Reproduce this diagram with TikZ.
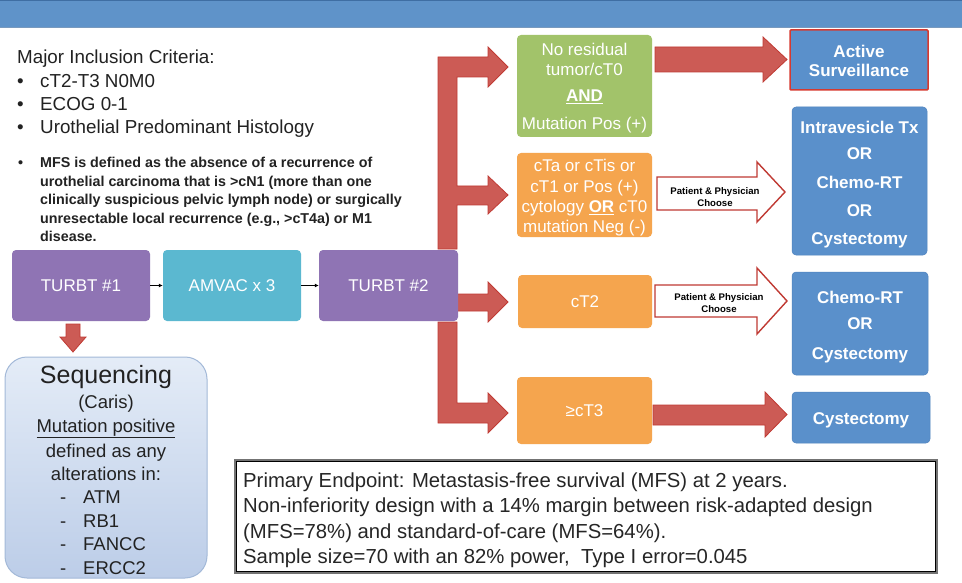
\documentclass[tikz,border=0pt]{standalone}
\usepackage{fontspec}
\setmainfont{Liberation Sans}
\usetikzlibrary{arrows.meta}
\definecolor{barblue}{HTML}{5F93C9}
\definecolor{bardark}{HTML}{3F6EA3}
\definecolor{purp}{HTML}{8F74B4}
\definecolor{cyanb}{HTML}{5BB8D0}
\definecolor{greenb}{HTML}{A2C36A}
\definecolor{orangeb}{HTML}{F5A54E}
\definecolor{redf}{HTML}{CC5B55}
\definecolor{redl}{HTML}{C03A33}
\definecolor{blueb}{HTML}{5A90CB}
\definecolor{bluel}{HTML}{4F83BF}
\definecolor{activer}{HTML}{D63A30}
\definecolor{txt}{HTML}{222222}
\definecolor{seqt}{HTML}{E4ECF7}
\definecolor{seqbot}{HTML}{BCCDE8}
\definecolor{seql}{HTML}{A3B9D8}
\begin{document}
\begin{tikzpicture}[x=1pt,y=-1pt,
  box/.style={rounded corners=4pt, inner sep=0pt, text=white, align=center},
  bigred/.style={fill=redf, draw=redl, line width=0.8pt, line join=miter},
  hollow/.style={fill=white, draw=redl, line width=1.4pt, line join=miter},
  lt/.style={anchor=base west, inner sep=0pt, text=txt, font=\fontsize{18.8}{22}\selectfont},
  mfs/.style={anchor=base west, inner sep=0pt, text=txt, font=\fontsize{14.3}{17}\selectfont\bfseries},
  sq/.style={anchor=base, inner sep=0pt, text=txt, font=\fontsize{18.5}{22}\selectfont},
  ep/.style={anchor=base west, inner sep=0pt, text=black!85, font=\fontsize{20.3}{24}\selectfont},
  pp/.style={anchor=base, inner sep=0pt, text=black, font=\fontsize{9.6}{11}\selectfont\bfseries},
  wt/.style={anchor=base, inner sep=0pt, text=white, font=\fontsize{17}{20}\selectfont},
  bt/.style={anchor=base, inner sep=0pt, text=white, font=\fontsize{17}{20}\selectfont\bfseries}
]
\useasboundingbox (0,0) rectangle (962,583);
\fill[white] (0,0) rectangle (962,583);
% top bar
\fill[barblue] (0,0) rectangle (962,27);
\draw[bardark, line width=1pt] (0,0.5) -- (962,0.5);
\draw[bardark!70, line width=0.8pt] (0,27) -- (962,27);

% left text
\node[lt] (crit) at (17,64) {Major Inclusion Criteria:};
\node[lt] at (17,87.5) {\textbullet};
\node[lt] (c1) at (40,87.5) {cT2-T3 N0M0};
\node[lt] at (17,110.5) {\textbullet};
\node[lt] (c2) at (40,110.5) {ECOG 0-1};
\node[lt] at (17,133.5) {\textbullet};
\node[lt] (c3) at (40,133.5) {Urothelial Predominant Histology};
\node[mfs] at (18,168) {\textbullet};
\node[mfs] (m1) at (40,168) {MFS is defined as the absence of a recurrence of};
\node[mfs] (m2) at (40,186.5) {urothelial carcinoma that is >cN1 (more than one};
\node[mfs] (m3) at (40,204.8) {clinically suspicious pelvic lymph node) or surgically};
\node[mfs] (m4) at (40,223) {unresectable local recurrence (e.g., >cT4a) or M1};
\node[mfs] (m5) at (40,241.3) {disease.};

% big red arrows (drawn first, behind boxes)
\draw[bigred] (438,249) -- (438,57) -- (488,57) -- (488,47) -- (508,67) -- (488,87) -- (488,77)
  -- (457,77) -- (457,186) -- (488,186) -- (488,176) -- (508,195) -- (488,214) -- (488,205)
  -- (457,205) -- (457,249) -- cycle;
\draw[bigred] (457,294) -- (488,294) -- (488,282) -- (508,302) -- (488,322) -- (488,311) -- (457,311) -- cycle;
\draw[bigred] (438,322) -- (438,423) -- (488,423) -- (488,433) -- (508,413) -- (488,393) -- (488,403)
  -- (457,403) -- (457,322) -- cycle;
\draw[bigred] (655,47) -- (763,47) -- (763,37) -- (787,59.5) -- (763,82) -- (763,72) -- (655,72) -- cycle;
\draw[bigred] (653,405) -- (765,405) -- (765,392) -- (787,414.5) -- (765,437) -- (765,425) -- (653,425) -- cycle;
\draw[bigred] (66,324) -- (80,324) -- (80,337) -- (86,337) -- (73,352) -- (60,337) -- (66,337) -- cycle;
% hollow arrows
\draw[hollow] (657,177) -- (757,177) -- (757,162) -- (785,192) -- (757,222) -- (757,210) -- (657,210) -- cycle;
\draw[hollow] (655,285) -- (757,285) -- (757,268) -- (787,301) -- (757,334) -- (757,317) -- (655,317) -- cycle;
\node[pp] (pp1) at (715,195) {Patient \& Physician};
\node[pp] at (715,207) {Choose};
\node[pp] (pp2) at (719,300) {Patient \& Physician};
\node[pp] at (719,312) {Choose};

% process boxes
\node[box, fill=purp, minimum width=138, minimum height=71] (t1) at (81,285.5) {};
\node[box, fill=cyanb, minimum width=138, minimum height=71] (am) at (232,285.5) {};
\node[box, fill=purp, minimum width=139, minimum height=71] (t2) at (388.5,285.5) {};
\node[wt] at (81,291.5) {TURBT \#1};
\node[wt] at (232,291.5) {AMVAC x 3};
\node[wt] at (388.5,291.5) {TURBT \#2};
\draw[-{Latex[length=4pt,width=4pt]}, line width=1.2pt, black] (t1.east) -- (am.west);
\draw[-{Latex[length=4pt,width=4pt]}, line width=1.2pt, black] (am.east) -- (t2.west);

% stratification boxes
\node[box, fill=greenb, minimum width=135, minimum height=102] (g) at (584.5,86) {};
\node[wt] at (584.5,55.5) {No residual};
\node[wt] at (584.5,75.5) {tumor/cT0};
\node[wt, font=\fontsize{17}{20}\selectfont\bfseries] at (584.5,102) {\underline{AND}};
\node[wt] at (584.5,130) {Mutation Pos (+)};

\node[box, fill=orangeb, minimum width=135, minimum height=84] (o1) at (584.5,195) {};
\node[wt] at (584.5,172) {cTa or cTis or};
\node[wt] at (584.5,192.5) {cT1 or Pos (+)};
\node[wt] at (584.5,213) {cytology \textbf{\underline{OR}} cT0};
\node[wt] at (584.5,233) {mutation Neg (-)};

\node[box, fill=orangeb, minimum width=134, minimum height=53] (o2) at (585,301.5) {};
\node[wt] at (585,307.5) {cT2};
\node[box, fill=orangeb, minimum width=135, minimum height=67] (o3) at (584.5,410.5) {};
\node[wt] at (584.5,416.5) {≥cT3};

% outcome boxes
\node[box, fill=blueb, draw=activer, line width=1.5pt, rounded corners=1pt, minimum width=138, minimum height=60] (act) at (859,60) {};
\node[bt] at (859,57.5) {Active};
\node[bt] at (859,77) {Surveillance};

\node[box, fill=blueb, draw=bluel, line width=0.5pt, minimum width=135, minimum height=148] (iv) at (859.5,181) {};
\node[bt] at (859.5,134) {Intravesicle Tx};
\node[bt] at (859.5,160) {OR};
\node[bt] at (859.5,189) {Chemo-RT};
\node[bt] at (859.5,216) {OR};
\node[bt] at (859.5,244) {Cystectomy};

\node[box, fill=blueb, draw=bluel, line width=0.5pt, minimum width=136, minimum height=103] (cr) at (860,323.5) {};
\node[bt] at (860,303) {Chemo-RT};
\node[bt] at (860,329) {OR};
\node[bt] at (860,359) {Cystectomy};

\node[box, fill=blueb, draw=bluel, line width=0.5pt, minimum width=138, minimum height=51] (cy) at (861,417.5) {};
\node[bt] at (861,424) {Cystectomy};

% sequencing box
\node[draw=seql, line width=1pt, rounded corners=22pt, top color=seqt, bottom color=seqbot,
  minimum width=202, minimum height=221, inner sep=0pt] (seq) at (106,467.5) {};
\node[sq, font=\fontsize{25}{28}\selectfont] at (106,383) {Sequencing};
\node[sq] at (106,408) {(Caris)};
\node[sq] at (106,432) {\underline{Mutation positive}};
\node[sq] at (106,457) {defined as any};
\node[sq] at (106,480.5) {alterations in:};
\node[sq, anchor=base west] at (60,503.5) {-};
\node[sq, anchor=base west] at (83,503.5) {ATM};
\node[sq, anchor=base west] at (60,527) {-};
\node[sq, anchor=base west] at (83,527) {RB1};
\node[sq, anchor=base west] at (60,550.5) {-};
\node[sq, anchor=base west] at (83,550.5) {FANCC};
\node[sq, anchor=base west] at (60,574) {-};
\node[sq, anchor=base west] at (83,574) {ERCC2};

% endpoint box
\node[draw=black!55, line width=2.2pt, minimum width=702, minimum height=113, inner sep=0pt] (epbox) at (586,516.5) {};
\node[draw=black, line width=1pt, minimum width=699, minimum height=110, inner sep=0pt] at (586,516.5) {};
\node[ep] at (243,487) {Primary Endpoint: Metastasis-free survival (MFS) at 2 years.};
\node[ep] at (243,512.5) {Non-inferiority design with a 14\% margin between risk-adapted design};
\node[ep] at (243,538) {(MFS=78\%) and standard-of-care (MFS=64\%).};
\node[ep] at (243,563.5) {Sample size=70 with an 82\% power,\ \ Type I error=0.045};
\end{tikzpicture}
\end{document}
